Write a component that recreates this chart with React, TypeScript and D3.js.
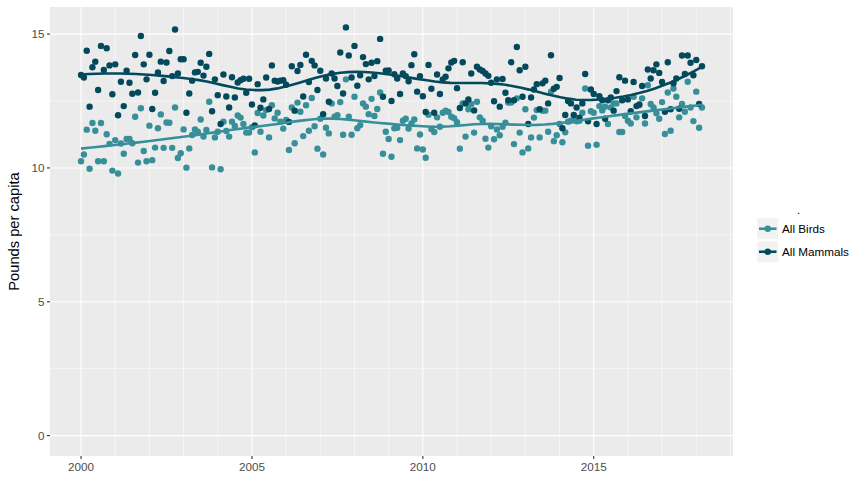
import React, { useMemo } from "react";
import * as d3 from "d3";

// Monthly series, Jan 2000 .. Mar 2018
const startYear = 2000;
const seriesNames = ["All Birds", "All Mammals"];
const seriesColors = ["#378F99", "#03495C"];

const birds: number[] = [
  10.25, 10.5, 11.43, 9.97, 11.68, 11.39, 10.25, 11.68, 10.25, 11.26, 10.9, 9.9,
  11.04, 9.79, 10.91, 10.53, 11.08, 11.08, 10.92, 11.91, 10.2, 12.23, 10.63, 10.25,
  11.58, 10.29, 10.76, 11.48, 12.0, 10.75, 11.7, 11.69, 10.75, 12.26, 10.37, 10.55,
  11.44, 10.01, 10.73, 11.23, 11.44, 11.35, 11.81, 11.17, 11.42, 12.47, 10.02, 11.14,
  11.35, 9.95, 11.73, 11.38, 11.17, 11.73, 11.57, 11.96, 11.88, 11.64, 11.32, 11.32,
  11.52, 10.58, 12.05, 11.35, 11.96, 12.16, 11.14, 12.34, 11.85, 12.06, 11.73, 11.47, 11.79,
  10.67, 12.26, 10.92, 12.44, 12.1, 11.19, 12.34, 11.39, 12.61, 11.56, 10.72, 11.84,
  10.5, 11.5, 11.29, 12.41, 11.91, 11.97, 12.46, 11.24, 13.31, 11.91, 11.24, 12.66,
  11.48, 11.6, 12.41, 12.29, 12.01, 12.58, 11.94, 12.2, 12.82, 10.53, 11.35, 11.08, 10.42, 11.48,
  11.5, 11.04, 11.76, 11.84, 11.47, 11.66, 11.81, 10.73, 11.25, 10.69, 10.38, 11.99,
  11.45, 11.34, 11.89, 11.54, 12.06, 12.14, 12.09, 11.91, 11.86, 11.71, 10.72, 12.41,
  11.17, 12.19, 12.39, 11.32, 12.47, 11.89, 11.76, 11.09, 10.76, 11.56, 11.07, 11.44, 11.22, 11.54,
  11.69, 12.44, 12.44, 10.89, 12.6, 11.32, 10.58, 12.19, 10.73, 11.14, 11.88, 12.16,
  11.14, 12.14, 12.14, 11.35, 12.85, 11.0, 11.22, 11.64, 10.96, 11.33, 11.73, 11.76,
  11.79, 11.74, 11.76, 12.06, 12.97, 10.83, 12.12, 12.06, 10.87, 12.31, 12.15, 12.29, 11.64, 12.26,
  12.41, 12.41, 11.34, 11.34, 11.94, 11.76, 11.66, 12.66, 11.89, 12.35, 12.6, 11.66,
  13.09, 12.39, 12.26, 12.04, 11.84, 12.46, 11.27, 12.82, 11.39, 12.97, 12.66, 11.89,
  12.39, 12.1, 13.22, 12.26, 11.75, 12.85, 11.5, 12.26,
];

const mammals: number[] = [
  13.47, 13.38, 14.38, 12.29, 13.76, 13.97, 12.91, 14.56, 13.66, 14.47, 13.83, 12.75,
  13.87, 11.97, 13.22, 12.31, 13.63, 13.18, 12.77, 14.22, 12.82, 14.93, 13.87, 13.31,
  14.23, 12.2, 12.81, 13.57, 13.97, 13.25, 13.94, 14.37, 13.43, 15.17, 13.53, 14.06,
  14.06, 12.06, 12.78, 13.26, 13.57, 13.59, 13.93, 13.45, 13.78, 14.26, 12.12, 13.31,
  12.72, 11.64, 13.49, 12.67, 12.26, 13.39, 12.63, 13.19, 13.28, 13.33, 12.81, 13.33,
  12.37, 11.59, 13.13, 12.25, 12.56, 13.38, 12.2, 13.83, 13.26, 13.23, 13.26, 13.28, 13.11,
  11.72, 13.8, 12.14, 13.62, 13.85, 12.67, 14.23, 13.21, 14.0, 13.83, 12.91, 13.63,
  12.01, 13.34, 12.47, 13.53, 13.34, 13.06, 14.31, 12.78, 15.25, 14.2, 13.38, 14.56,
  13.07, 13.46, 14.14, 13.88, 13.31, 13.93, 13.43, 13.99, 14.82, 12.66, 13.63, 13.64, 12.5, 13.5,
  13.34, 12.76, 13.53, 13.43, 13.24, 13.84, 14.25, 12.85, 13.43, 12.68, 12.09, 13.85,
  12.96, 12.06, 13.49, 12.76, 13.31, 13.41, 13.72, 13.94, 14.0, 12.98, 12.24, 13.95,
  12.41, 12.56, 13.53, 12.15, 13.78, 13.68, 13.62, 13.53, 13.44, 13.18, 12.49, 13.31, 12.29, 13.32,
  12.81, 12.53, 13.95, 12.53, 14.52, 13.65, 12.66, 13.78, 11.64, 12.63, 12.93, 13.13,
  12.19, 13.16, 13.26, 12.41, 14.21, 12.96, 13.03, 13.36, 11.48, 11.98, 12.5, 12.41,
  11.98, 12.26, 11.88, 12.41, 13.51, 11.74, 12.93, 12.76, 11.64, 12.68, 12.53, 11.84, 12.53, 12.63,
  12.14, 12.87, 13.39, 12.53, 13.26, 12.56, 12.12, 13.21, 12.31, 12.37, 13.06, 11.94,
  13.68, 13.34, 13.65, 13.87, 13.55, 13.21, 12.1, 13.95, 12.19, 13.16, 13.34, 12.21,
  14.2, 13.51, 14.2, 13.93, 13.46, 14.03, 12.39, 13.8,
];

const yTicks = [0, 5, 10, 15];
const yMinor = [2.5, 7.5, 12.5];
const xTicks = [2000, 2005, 2010, 2015];
const xMinor = [2001, 2002, 2003, 2004, 2006, 2007, 2008, 2009, 2011, 2012, 2013, 2014, 2016, 2017, 2018, 2019];
const yTitle = "Pounds per capita";

function solve3(A: number[][], b: number[]): number[] {
  const M = A.map((r, i) => [...r, b[i]]);
  for (let c = 0; c < 3; c++) {
    let p = c;
    for (let r = c + 1; r < 3; r++) if (Math.abs(M[r][c]) > Math.abs(M[p][c])) p = r;
    [M[c], M[p]] = [M[p], M[c]];
    for (let r = c + 1; r < 3; r++) {
      const f = M[r][c] / M[c][c];
      for (let k = c; k < 4; k++) M[r][k] -= f * M[c][k];
    }
  }
  const x = [0, 0, 0];
  for (let r = 2; r >= 0; r--) {
    let s = M[r][3];
    for (let k = r + 1; k < 3; k++) s -= M[r][k] * x[k];
    x[r] = s / M[r][r];
  }
  return x;
}

function loess(xs: number[], ys: number[], span: number, nEval = 80): [number, number][] {
  const n = xs.length;
  const q = Math.floor(n * span);
  const x0 = d3.min(xs)!, x1 = d3.max(xs)!;
  const out: [number, number][] = [];
  for (let e = 0; e < nEval; e++) {
    const xe = x0 + ((x1 - x0) * e) / (nEval - 1);
    const dist = xs.map((x) => Math.abs(x - xe));
    const h = [...dist].sort((a, b) => a - b)[q - 1] * 1.0000001;
    const A = [[0, 0, 0], [0, 0, 0], [0, 0, 0]];
    const b = [0, 0, 0];
    for (let i = 0; i < n; i++) {
      const u = dist[i] / h;
      if (u >= 1) continue;
      const w = Math.pow(1 - u * u * u, 3);
      const t = xs[i] - xe;
      const v = [1, t, t * t];
      for (let r = 0; r < 3; r++) {
        b[r] += w * v[r] * ys[i];
        for (let c = 0; c < 3; c++) A[r][c] += w * v[r] * v[c];
      }
    }
    out.push([xe, solve3(A, b)[0]]);
  }
  return out;
}

export default function App() {
  const W = 867, H = 497;
  const left = 50, right = 733, top = 7, bottom = 456;
  const allSeries = [birds, mammals];
  const xsOf = (arr: number[]) => arr.map((_, i) => startYear + i / 12);

  const xMin = startYear, xMax = startYear + (birds.length - 1) / 12;
  const xPad = (xMax - xMin) * 0.05;
  const yMaxData = d3.max([...birds, ...mammals])!;
  const yPad = (yMaxData - 0) * 0.05;
  const x = d3.scaleLinear().domain([xMin - xPad, xMax + xPad]).range([left, right]);
  const y = d3.scaleLinear().domain([0 - yPad, yMaxData + yPad]).range([bottom, top]);

  const smooths = useMemo(
    () => allSeries.map((s) => loess(xsOf(s), s, 0.42)),
    []
  );
  const line = d3.line<[number, number]>().x((d) => x(d[0])).y((d) => y(d[1])).curve(d3.curveLinear);

  const font = "'Liberation Sans', Arial, Helvetica, sans-serif";

  return (
    <svg width={W} height={H} style={{ position: "absolute", left: 0, top: 0, background: "#fff" }} fontFamily={font}>
      <rect x={left} y={top} width={right - left} height={bottom - top} fill="#EBEBEB" />
      {yMinor.map((v) => (
        <line key={"ym" + v} x1={left} x2={right} y1={y(v)} y2={y(v)} stroke="#fff" strokeWidth={0.55} />
      ))}
      {xMinor.map((v) => (
        <line key={"xm" + v} x1={x(v)} x2={x(v)} y1={top} y2={bottom} stroke="#fff" strokeWidth={0.55} />
      ))}
      {yTicks.map((v) => (
        <line key={"yM" + v} x1={left} x2={right} y1={y(v)} y2={y(v)} stroke="#fff" strokeWidth={1.1} />
      ))}
      {xTicks.map((v) => (
        <line key={"xM" + v} x1={x(v)} x2={x(v)} y1={top} y2={bottom} stroke="#fff" strokeWidth={1.1} />
      ))}

      {allSeries.map((s, si) => (
        <g key={"pts" + si}>
          {s.map((v, i) => (
            <circle key={i} cx={x(startYear + i / 12)} cy={y(v)} r={3.2} fill={seriesColors[si]} />
          ))}
        </g>
      ))}
      {smooths.map((sm, si) => (
        <path key={"sm" + si} d={line(sm)!} fill="none" stroke={seriesColors[si]} strokeWidth={2.6} />
      ))}

      {/* y axis */}
      {yTicks.map((v) => (
        <g key={"yt" + v}>
          <line x1={left - 3} x2={left} y1={y(v)} y2={y(v)} stroke="#333" strokeWidth={1.1} />
          <text x={left - 5.5} y={y(v)} dy="0.35em" textAnchor="end" fontSize={11.7} fill="#4D4D4D">
            {v}
          </text>
        </g>
      ))}
      {xTicks.map((v) => (
        <g key={"xt" + v}>
          <line x1={x(v)} x2={x(v)} y1={bottom} y2={bottom + 3} stroke="#333" strokeWidth={1.1} />
          <text x={x(v)} y={bottom + 14.5} textAnchor="middle" fontSize={11.7} fill="#4D4D4D">
            {v}
          </text>
        </g>
      ))}
      <text transform={`translate(18.5,${(top + bottom) / 2}) rotate(-90)`} textAnchor="middle" fontSize={14.7} fill="#000">
        {yTitle}
      </text>

      {/* legend */}
      <text x={797} y={214} fontSize={11} fill="#000">.</text>
      {seriesNames.map((name, i) => {
        const ky = 218 + i * 23;
        return (
          <g key={"lg" + i}>
            <rect x={757} y={ky} width={21.5} height={21.5} fill="#F2F2F2" stroke="#fff" strokeWidth={0.5} />
            <line x1={759} x2={776.5} y1={ky + 10.75} y2={ky + 10.75} stroke={seriesColors[i]} strokeWidth={2.6} />
            <circle cx={767.75} cy={ky + 10.75} r={3.2} fill={seriesColors[i]} />
            <text x={782} y={ky + 10.75} dy="0.35em" fontSize={11.7} fill="#000">
              {name}
            </text>
          </g>
        );
      })}
    </svg>
  );
}
